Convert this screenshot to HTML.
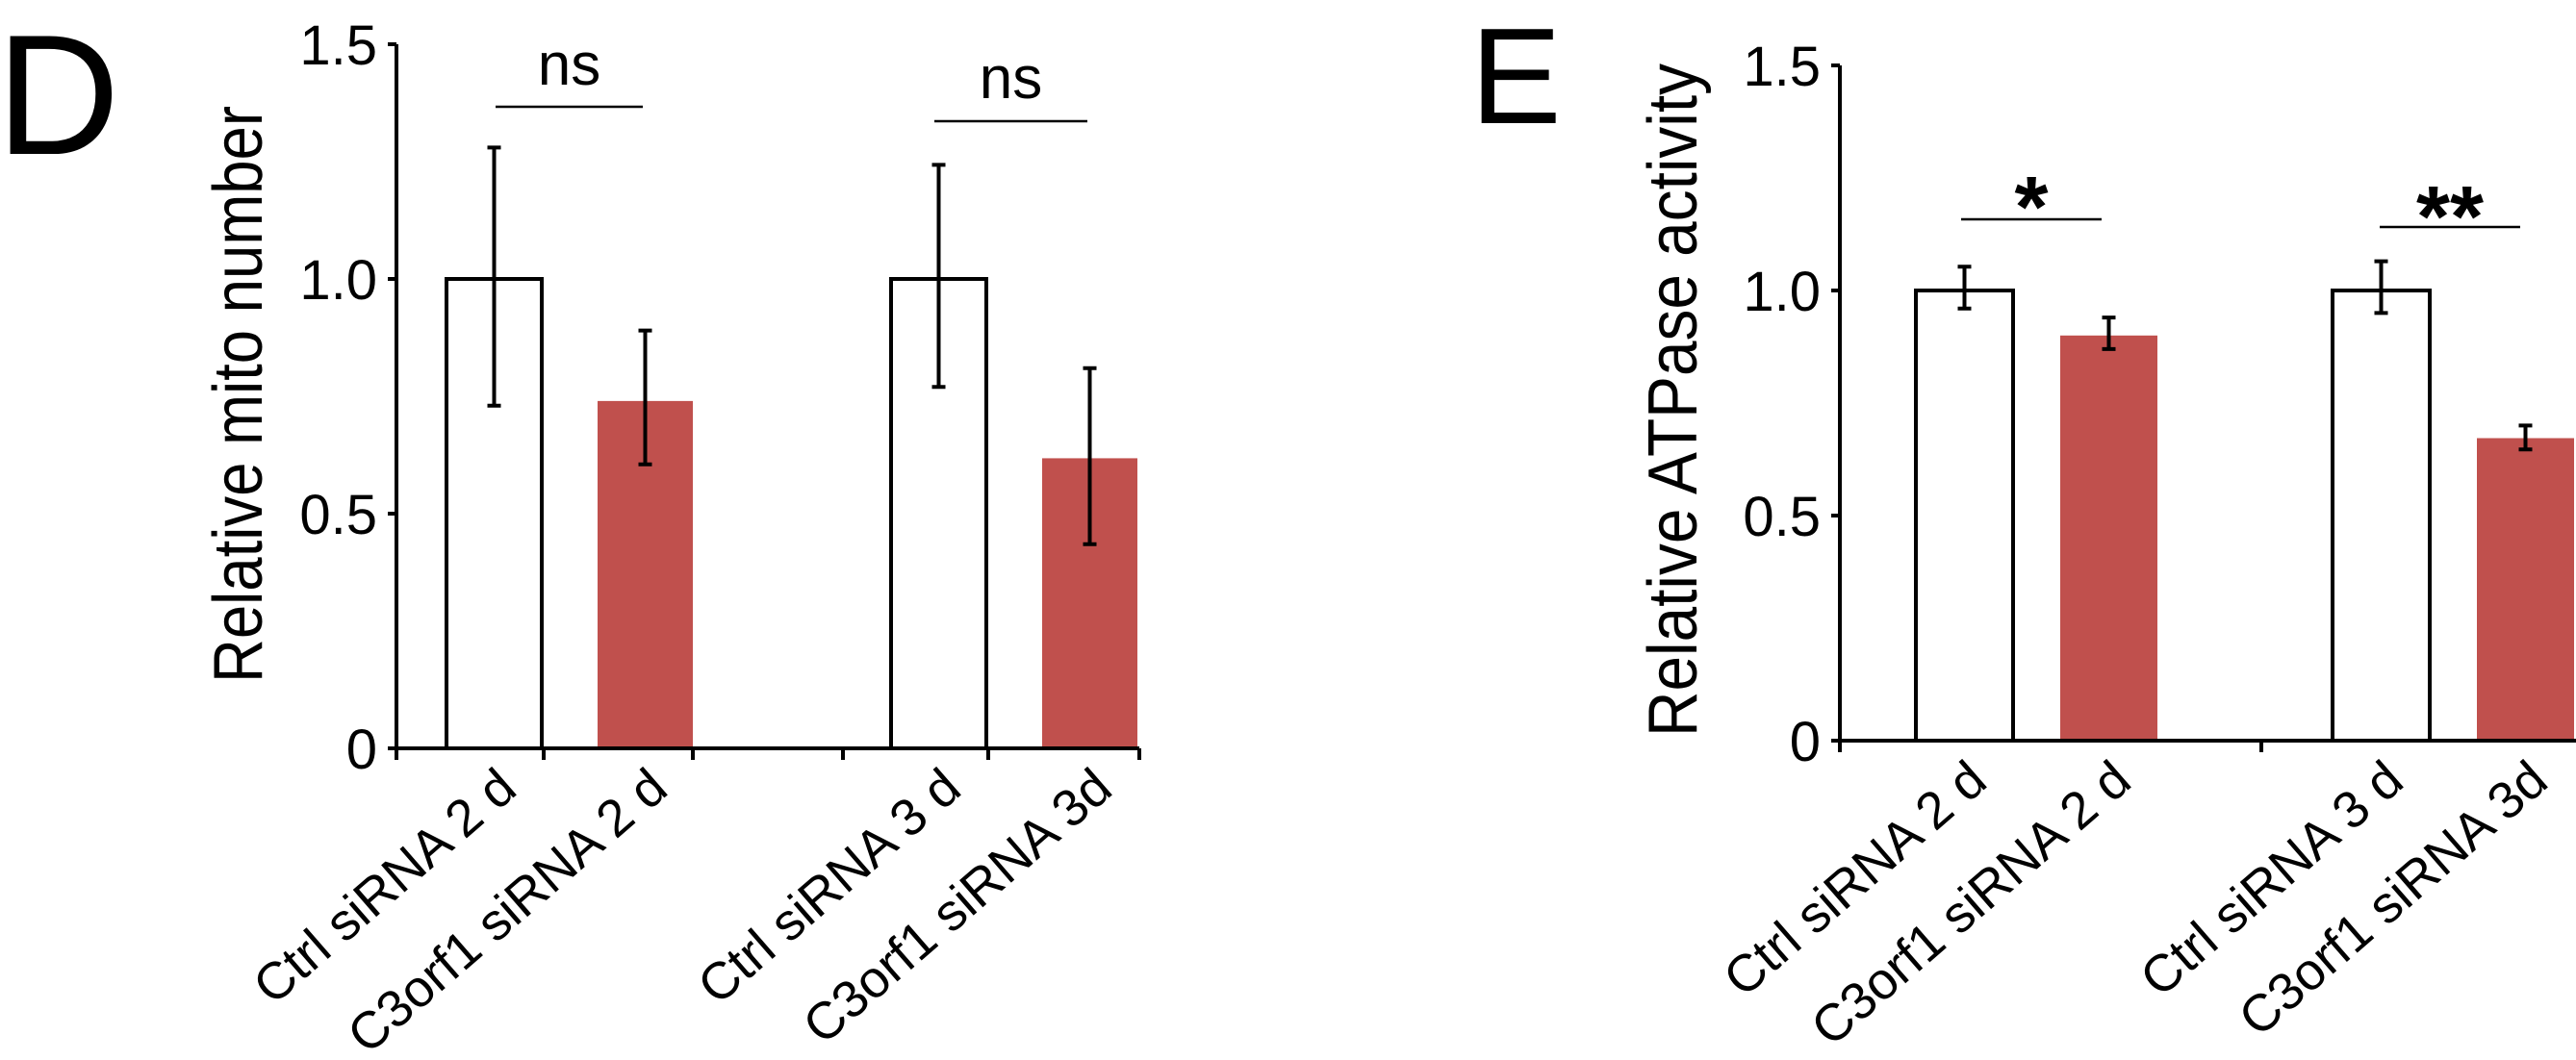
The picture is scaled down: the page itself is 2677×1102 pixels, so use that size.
<!DOCTYPE html>
<html><head><meta charset="utf-8"><style>
html,body{margin:0;padding:0;background:#fff;overflow:hidden;}
svg{display:block;font-family:"Liberation Sans",Arial,sans-serif;}
</style></head><body>
<svg id="fig" width="2677" height="1102" viewBox="0 0 2677 1102">
<text x="-4" y="160" font-size="178">D</text>
<text x="1528" y="128" font-size="142">E</text>
</svg>
<script>
const categories = ["Ctrl siRNA 2 d","C3orf1 siRNA 2 d","Ctrl siRNA 3 d","C3orf1 siRNA 3d"];
const mitoValues = [1.0, 0.74, 1.0, 0.618];
const mitoErrHigh = [1.28, 0.89, 1.243, 0.81];
const mitoErrLow = [0.73, 0.605, 0.77, 0.435];
const atpValues = [1.0, 0.90, 1.0, 0.672];
const atpErrHigh = [1.053, 0.94, 1.065, 0.70];
const atpErrLow = [0.96, 0.87, 0.95, 0.647];
const yTicks = [0, 0.5, 1.0, 1.5];
const yTickLabels = ["0","0.5","1.0","1.5"];
const mitoSig = ["ns","ns"];
const atpSig = ["*","**"];

const NS='http://www.w3.org/2000/svg';
const svg=document.getElementById('fig');
function mk(tag,attrs,parent){const e=document.createElementNS(NS,tag);for(const k in attrs)e.setAttribute(k,attrs[k]);(parent||svg).appendChild(e);return e;}

function drawPanel(p){
  const g=mk('g',{});
  
  
  const y=v=>p.y0-(v/1.5)*(p.y0-p.yTop);
  const x=i=>p.x0+p.bandStart+i*p.band+(i>=2?p.gap:0);
  categories.forEach((c,i)=>{
    const top=y(p.values[i]);
    const red=i%2===1;
    const b=mk('rect',{x:x(i),y:top,width:p.bw,height:p.y0-top,fill:red?'#c0504d':'#fff',stroke:red?'none':'#000','stroke-width':4},g);
    
    
  });
  categories.forEach((c,i)=>{
    const cx=x(i)+p.bw/2, hi=y(p.hi[i]), lo=y(p.lo[i]);
    const e=mk('path',{d:`M${cx},${hi}V${lo}M${cx-7},${hi}H${cx+7}M${cx-7},${lo}H${cx+7}`,stroke:'#000','stroke-width':4,fill:'none'},g);
    
    
  });
  const ax=mk('path',{d:`M${p.x0},${p.yTop}V${p.y0}H${p.xEnd}`,stroke:'#000','stroke-width':4,fill:'none'},g);
  
  
  yTicks.forEach((t,i)=>{
    mk('line',{x1:p.x0-9,x2:p.x0,y1:y(t),y2:y(t),stroke:'#000','stroke-width':4},g);
    const tl=mk('text',{x:p.x0-20,y:y(t)+21,'font-size':58,'text-anchor':'end'},g);
    tl.textContent=yTickLabels[i];
    
    
  });
  p.xTicks.forEach(tx=>mk('line',{x1:tx,x2:tx,y1:p.y0,y2:p.y0+12,stroke:'#000','stroke-width':4},g));
  categories.forEach((c,i)=>{
    const ex=x(i)+p.bw/2+26, ey=p.y0+46;
    const t=mk('text',{x:ex,y:ey,'font-size':54,'text-anchor':'end',transform:`rotate(-41 ${ex} ${ey})`},g);
    t.textContent=c;
    
    
  });
  const yt=mk('text',{x:p.titleX,y:p.titleY,'font-size':72,'text-anchor':'middle',textLength:p.titleLen,lengthAdjust:'spacingAndGlyphs',transform:`rotate(-90 ${p.titleX} ${p.titleY})`},g);
  yt.textContent=p.title;
  
  
  [0,1].forEach(k=>{
    const s=p.sig[k];
    const l=mk('line',{x1:s.x1,x2:s.x2,y1:s.ly,y2:s.ly,stroke:'#000','stroke-width':2.5},g);
    
    
    const t=mk('text',{x:(s.x1+s.x2)/2,y:s.ty,'font-size':s.fs,'text-anchor':'middle','font-weight':s.fw},g);
    t.textContent=p.sigText[k];
    
    
  });
}

drawPanel({name:'mito-chart',x0:412,xEnd:1184,y0:778,yTop:46,bandStart:52,band:157,gap:148,bw:99,
  values:mitoValues,hi:mitoErrHigh,lo:mitoErrLow,xTicks:[412,565,720,876,1027,1184],
  title:'Relative mito number',titleX:272,titleY:410,titleLen:600,sigText:mitoSig,
  sig:[{x1:515,x2:668,ly:111,ty:88,fs:62,fw:'normal'},{x1:971,x2:1130,ly:126,ty:102,fs:62,fw:'normal'}]});
drawPanel({name:'atpase-chart',x0:1912,xEnd:2677,y0:770,yTop:68,bandStart:79,band:150,gap:133,bw:101,
  values:atpValues,hi:atpErrHigh,lo:atpErrLow,xTicks:[1912,2350],
  title:'Relative ATPase activity',titleX:1763,titleY:416,titleLen:700,sigText:atpSig,
  sig:[{x1:2038,x2:2184,ly:228,ty:246,fs:90,fw:'bold'},{x1:2473,x2:2619,ly:236,ty:256,fs:90,fw:'bold'}]});
</script>
</body></html>
